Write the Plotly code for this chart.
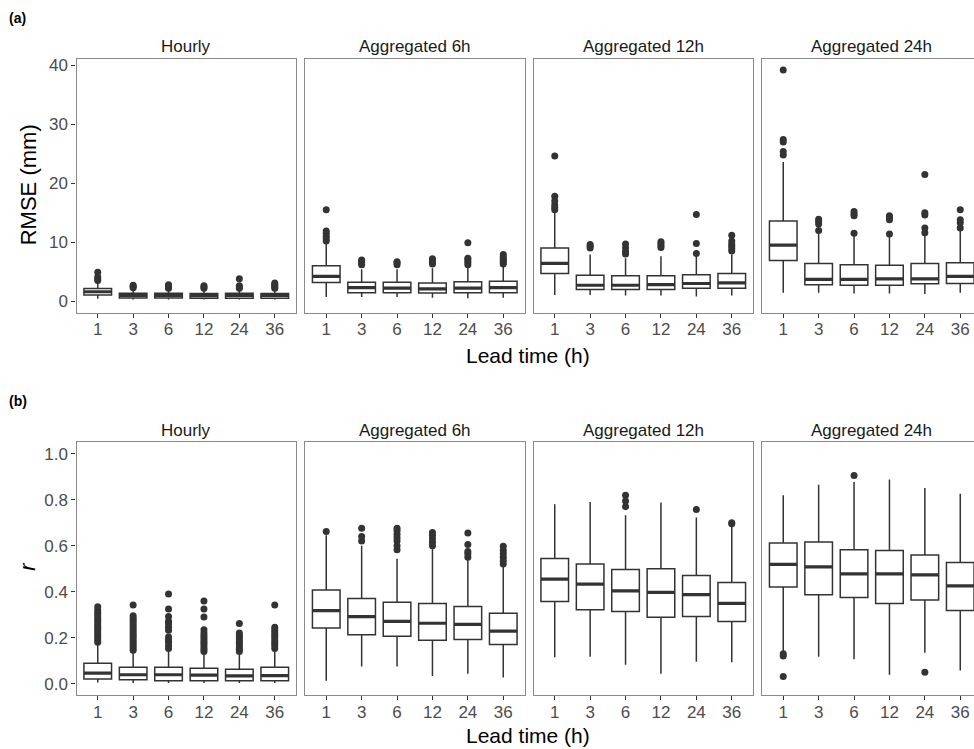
import plotly.graph_objects as go

# ---------------- data ----------------
panels = ["Hourly", "Aggregated 6h", "Aggregated 12h", "Aggregated 24h"]
leads = ["1", "3", "6", "12", "24", "36"]

# RMSE (mm): per panel, per lead time -> [lower whisker, q1, median, q3, upper whisker]
rmse_hourly = [[0.4, 1.05, 1.6, 2.15, 3.4], [0.3, 0.55, 1.0, 1.35, 2.0], [0.3, 0.55, 1.0, 1.35, 2.0],
               [0.3, 0.5, 0.95, 1.3, 1.9], [0.3, 0.5, 1.0, 1.35, 2.0], [0.3, 0.5, 1.0, 1.3, 2.0]]
rmse_6h = [[0.7, 3.15, 4.2, 6.0, 9.8], [0.7, 1.45, 2.3, 3.2, 5.4], [0.7, 1.45, 2.2, 3.2, 5.4],
           [0.6, 1.4, 2.1, 3.1, 5.6], [0.5, 1.45, 2.2, 3.3, 5.7], [0.6, 1.45, 2.3, 3.4, 6.0]]
rmse_12h = [[1.05, 4.7, 6.4, 9.0, 15.2], [1.05, 2.0, 2.7, 4.4, 7.9], [0.95, 2.0, 2.7, 4.3, 7.3],
            [0.95, 2.0, 2.8, 4.3, 7.6], [0.8, 2.2, 3.0, 4.5, 7.9], [0.95, 2.2, 3.1, 4.7, 7.9]]
rmse_24h = [[1.45, 6.9, 9.5, 13.6, 23.6], [1.45, 2.8, 3.7, 6.4, 11.8], [1.3, 2.7, 3.7, 6.2, 11.4],
            [1.3, 2.7, 3.8, 6.1, 11.3], [1.2, 2.95, 3.8, 6.4, 11.5], [1.45, 3.0, 4.2, 6.5, 12.2]]

rmse_out_hourly = [[3.5, 3.8, 4.1, 4.9], [2.3, 2.5, 2.7], [2.2, 2.4, 2.6, 2.8],
                   [2.2, 2.4, 2.6], [2.2, 2.4, 2.6, 3.8], [2.2, 2.4, 2.6, 2.8, 3.1]]
rmse_out_6h = [[10.2, 10.6, 11.0, 11.5, 11.9, 15.5], [6.2, 6.5, 6.8, 7.0], [6.2, 6.5, 6.7],
               [6.3, 6.6, 6.9, 7.2], [6.2, 6.6, 7.0, 7.3, 9.9], [6.3, 6.6, 6.9, 7.2, 7.5, 7.9]]
rmse_out_12h = [[15.5, 15.9, 16.3, 17.0, 17.8, 24.6], [9.0, 9.3, 9.6], [8.0, 8.4, 9.0, 9.7],
                [9.1, 9.4, 9.8, 10.1], [8.1, 9.8, 14.7], [8.5, 8.9, 9.3, 9.7, 10.2, 11.2]]
rmse_out_24h = [[24.8, 25.4, 27.0, 27.4, 39.2], [12.0, 13.1, 13.5, 13.9], [11.5, 14.5, 14.8, 15.2],
                [11.4, 13.8, 14.2, 14.5], [11.6, 12.4, 14.6, 15.0, 21.5], [12.4, 13.3, 13.8, 15.5]]

# correlation r
r_hourly = [[0.005, 0.02, 0.046, 0.089, 0.175], [0.003, 0.017, 0.039, 0.072, 0.135],
            [0.003, 0.013, 0.039, 0.072, 0.14], [0.003, 0.013, 0.037, 0.067, 0.13],
            [0.003, 0.013, 0.034, 0.063, 0.125], [0.003, 0.013, 0.035, 0.072, 0.14]]
r_6h = [[0.013, 0.242, 0.318, 0.407, 0.645], [0.075, 0.213, 0.292, 0.371, 0.60],
        [0.075, 0.206, 0.271, 0.354, 0.543], [0.034, 0.189, 0.263, 0.349, 0.59],
        [0.043, 0.192, 0.258, 0.336, 0.54], [0.027, 0.17, 0.229, 0.306, 0.516]]
r_12h = [[0.115, 0.357, 0.455, 0.544, 0.78], [0.117, 0.322, 0.433, 0.521, 0.79],
         [0.082, 0.314, 0.404, 0.497, 0.733], [0.043, 0.289, 0.397, 0.50, 0.788],
         [0.096, 0.292, 0.387, 0.471, 0.723], [0.093, 0.271, 0.349, 0.44, 0.69]]
r_24h = [[0.14, 0.421, 0.519, 0.612, 0.82], [0.117, 0.387, 0.508, 0.616, 0.865],
         [0.106, 0.375, 0.478, 0.583, 0.877], [0.039, 0.349, 0.478, 0.579, 0.888],
         [0.135, 0.364, 0.473, 0.56, 0.851], [0.057, 0.318, 0.425, 0.527, 0.826]]

r_out_hourly = [
    [0.18, 0.19, 0.20, 0.21, 0.22, 0.23, 0.24, 0.25, 0.26, 0.27, 0.28, 0.29, 0.30, 0.31, 0.32, 0.335],
    [0.146, 0.155, 0.165, 0.175, 0.185, 0.195, 0.205, 0.215, 0.225, 0.235, 0.245, 0.255, 0.265, 0.275,
     0.285, 0.295, 0.342],
    [0.153, 0.165, 0.18, 0.19, 0.203, 0.232, 0.245, 0.26, 0.272, 0.292, 0.325, 0.39],
    [0.14, 0.15, 0.16, 0.17, 0.18, 0.19, 0.20, 0.21, 0.22, 0.235, 0.29, 0.325, 0.36],
    [0.14, 0.15, 0.16, 0.17, 0.18, 0.19, 0.20, 0.21, 0.22, 0.262],
    [0.153, 0.165, 0.175, 0.185, 0.195, 0.205, 0.215, 0.225, 0.235, 0.245, 0.342],
]
r_out_6h = [[0.662], [0.62, 0.64, 0.676], [0.583, 0.60, 0.62, 0.635, 0.65, 0.665, 0.676],
            [0.60, 0.615, 0.63, 0.645, 0.658], [0.55, 0.565, 0.575, 0.605, 0.655],
            [0.52, 0.535, 0.55, 0.565, 0.58, 0.598]]
r_out_12h = [[], [], [0.77, 0.795, 0.82], [], [0.758], [0.695, 0.70]]
r_out_24h = [[0.12, 0.13, 0.031], [], [0.905], [], [0.05], []]

rmse_stats = [rmse_hourly, rmse_6h, rmse_12h, rmse_24h]
rmse_outliers = [rmse_out_hourly, rmse_out_6h, rmse_out_12h, rmse_out_24h]
r_stats = [r_hourly, r_6h, r_12h, r_24h]
r_outliers = [r_out_hourly, r_out_6h, r_out_12h, r_out_24h]

rmse_ticks = [0, 10, 20, 30, 40]
r_ticks = [0.0, 0.2, 0.4, 0.6, 0.8, 1.0]

# ---------------- layout geometry (pixels) ----------------
W, H = 990, 749
col_px = [(76.5, 296), (305, 524.5), (533.5, 753), (762, 981.5)]
row_px = [(56, 311), (441, 695)]

FONT = "Liberation Sans, Arial, sans-serif"
DARK = "#333333"
BORDER = "#8a8a8a"
BOXW = 0.78

fig = go.Figure()
layout = dict(
    width=W, height=H, margin=dict(l=0, r=0, t=0, b=0),
    paper_bgcolor="white", plot_bgcolor="white", showlegend=False,
    font=dict(family=FONT), annotations=[],
)

xs = list(range(1, len(leads) + 1))
for r, (stats_all, outs_all, yrange, yticks, yfmt) in enumerate([
        (rmse_stats, rmse_outliers, [-1.96, 41.1], rmse_ticks, "d"),
        (r_stats, r_outliers, [-0.05, 1.05], r_ticks, ".1f")]):
    for c in range(4):
        idx = r * 4 + c + 1
        xa = "x" if idx == 1 else f"x{idx}"
        ya = "y" if idx == 1 else f"y{idx}"
        st = stats_all[c]
        fig.add_trace(go.Box(
            x=xs, lowerfence=[s[0] for s in st], q1=[s[1] for s in st],
            median=[s[2] for s in st], q3=[s[3] for s in st],
            upperfence=[s[4] for s in st], width=BOXW, whiskerwidth=0,
            fillcolor="white", line=dict(color=DARK, width=1.5),
            boxpoints=False, hoverinfo="skip", xaxis=xa, yaxis=ya))
        # thicker median bars (ggplot fatten)
        mx, my = [], []
        for i, s in enumerate(st):
            mx += [xs[i] - BOXW / 2, xs[i] + BOXW / 2, None]
            my += [s[2], s[2], None]
        fig.add_trace(go.Scatter(x=mx, y=my, mode="lines",
                                 line=dict(color=DARK, width=3.2),
                                 hoverinfo="skip", xaxis=xa, yaxis=ya))
        ox, oy = [], []
        for i, o in enumerate(outs_all[c]):
            ox += [xs[i]] * len(o)
            oy += o
        fig.add_trace(go.Scatter(x=ox, y=oy, mode="markers",
                                 marker=dict(color=DARK, size=7),
                                 hoverinfo="skip", xaxis=xa, yaxis=ya))

        x0, x1 = col_px[c]
        y0, y1 = row_px[r]
        layout[f"xaxis{'' if idx == 1 else idx}"] = dict(
            domain=[x0 / W, x1 / W], range=[0.4, len(leads) + 0.6],
            tickvals=xs, ticktext=leads, ticks="outside", ticklen=4,
            tickcolor=DARK, tickwidth=1.2, showgrid=False, zeroline=False,
            showline=True, mirror=True, linecolor=BORDER, linewidth=1.3,
            ticklabelstandoff=-3,
            tickfont=dict(size=17, color="#4d4d4d"), anchor=ya, fixedrange=True)
        layout[f"yaxis{'' if idx == 1 else idx}"] = dict(
            domain=[1 - y1 / H, 1 - y0 / H], range=yrange,
            tickvals=yticks, tickformat=yfmt,
            ticks="outside" if c == 0 else "", ticklen=4, tickcolor=DARK, tickwidth=1.2,
            showticklabels=(c == 0), showgrid=False, zeroline=False,
            showline=True, mirror=True, linecolor=BORDER, linewidth=1.3,
            tickfont=dict(size=17, color="#4d4d4d"), anchor=xa, fixedrange=True)
        # strip title
        layout["annotations"].append(dict(
            text=panels[c], x=(x0 + x1) / 2 / W, y=1 - (y0 - 12) / H,
            xref="paper", yref="paper", xanchor="center", yanchor="middle",
            showarrow=False, font=dict(size=17, color="#1a1a1a")))

ann = layout["annotations"]
ann.append(dict(text="<b>(a)</b>", x=7 / W, y=1 - 15 / H, xref="paper", yref="paper",
                xanchor="left", yanchor="middle", showarrow=False,
                font=dict(size=14, color="black")))
ann.append(dict(text="<b>(b)</b>", x=7 / W, y=1 - 400 / H, xref="paper", yref="paper",
                xanchor="left", yanchor="middle", showarrow=False,
                font=dict(size=14, color="black")))
ann.append(dict(text="RMSE (mm)", x=28 / W, y=1 - 183 / H, xref="paper", yref="paper",
                xanchor="center", yanchor="middle", textangle=-90, showarrow=False,
                font=dict(size=22, color="black")))
ann.append(dict(text="<i>r</i>", x=28 / W, y=1 - 566 / H, xref="paper", yref="paper",
                xanchor="center", yanchor="middle", textangle=-90, showarrow=False,
                font=dict(size=22, color="black")))
for yy in (354, 735):
    ann.append(dict(text="Lead time (h)", x=528 / W, y=1 - yy / H, xref="paper", yref="paper",
                    xanchor="center", yanchor="middle", showarrow=False,
                    font=dict(size=21, color="black")))

fig.update_layout(**layout)

post = ("document.body.style.margin='0';document.body.style.overflow='hidden';"
        "document.documentElement.style.overflow='hidden';")
fig.write_html("out.html", post_script=post, config={"displayModeBar": False})
